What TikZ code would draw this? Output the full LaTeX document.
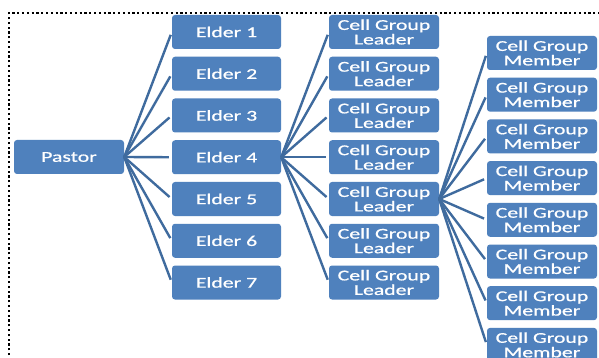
\documentclass[tikz,border=0pt]{standalone}
\usepackage{fontspec}
\newfontfamily\cfont[FakeStretch=1.45,FakeBold=0.8]{Carlito}
\definecolor{boxblue}{HTML}{4F81BD}
\definecolor{linkblue}{HTML}{3F6B9E}
\tikzset{
  orgbox/.style={rectangle, rounded corners=3pt, fill=boxblue, draw=none,
    minimum width=110pt, minimum height=34pt, inner sep=0pt, text=white,
    align=center, font=\cfont\fontsize{15}{14.5}\selectfont},
  link/.style={draw=linkblue, line width=2.4pt, shorten >=3pt},
  frame/.style={draw=black, line width=2pt, dash pattern=on 2.2pt off 2.6pt}
}
\begin{document}
\begin{tikzpicture}[x=1pt,y=-1pt]
\clip (0,0) rectangle (599,358);
\fill[white] (0,0) rectangle (599,358);
\draw[frame] (9,360) -- (9,13) -- (602,13);
\node[orgbox] (pastor) at (69,157) {Pastor};
\foreach \i in {1,...,7}{
  \node[orgbox, minimum width=109pt] (e\i) at (226.5,{32+41.75*(\i-1)}) {Elder \i};
  \node[orgbox] (l\i) at (384,{32+41.75*(\i-1)}) {Cell Group\\Leader};
}
\foreach \i in {1,...,8}{
  \node[orgbox] (m\i) at (542,{53+41.7*(\i-1)}) {Cell Group\\Member};
}
\foreach \i in {1,...,7}{
  \draw[link] (pastor.east) -- (e\i.west);
  \draw[link] (e4.east) -- (l\i.west);
}
\foreach \i in {1,...,8}{
  \draw[link] (l5.east) -- (m\i.west);
}
\end{tikzpicture}
\end{document}
